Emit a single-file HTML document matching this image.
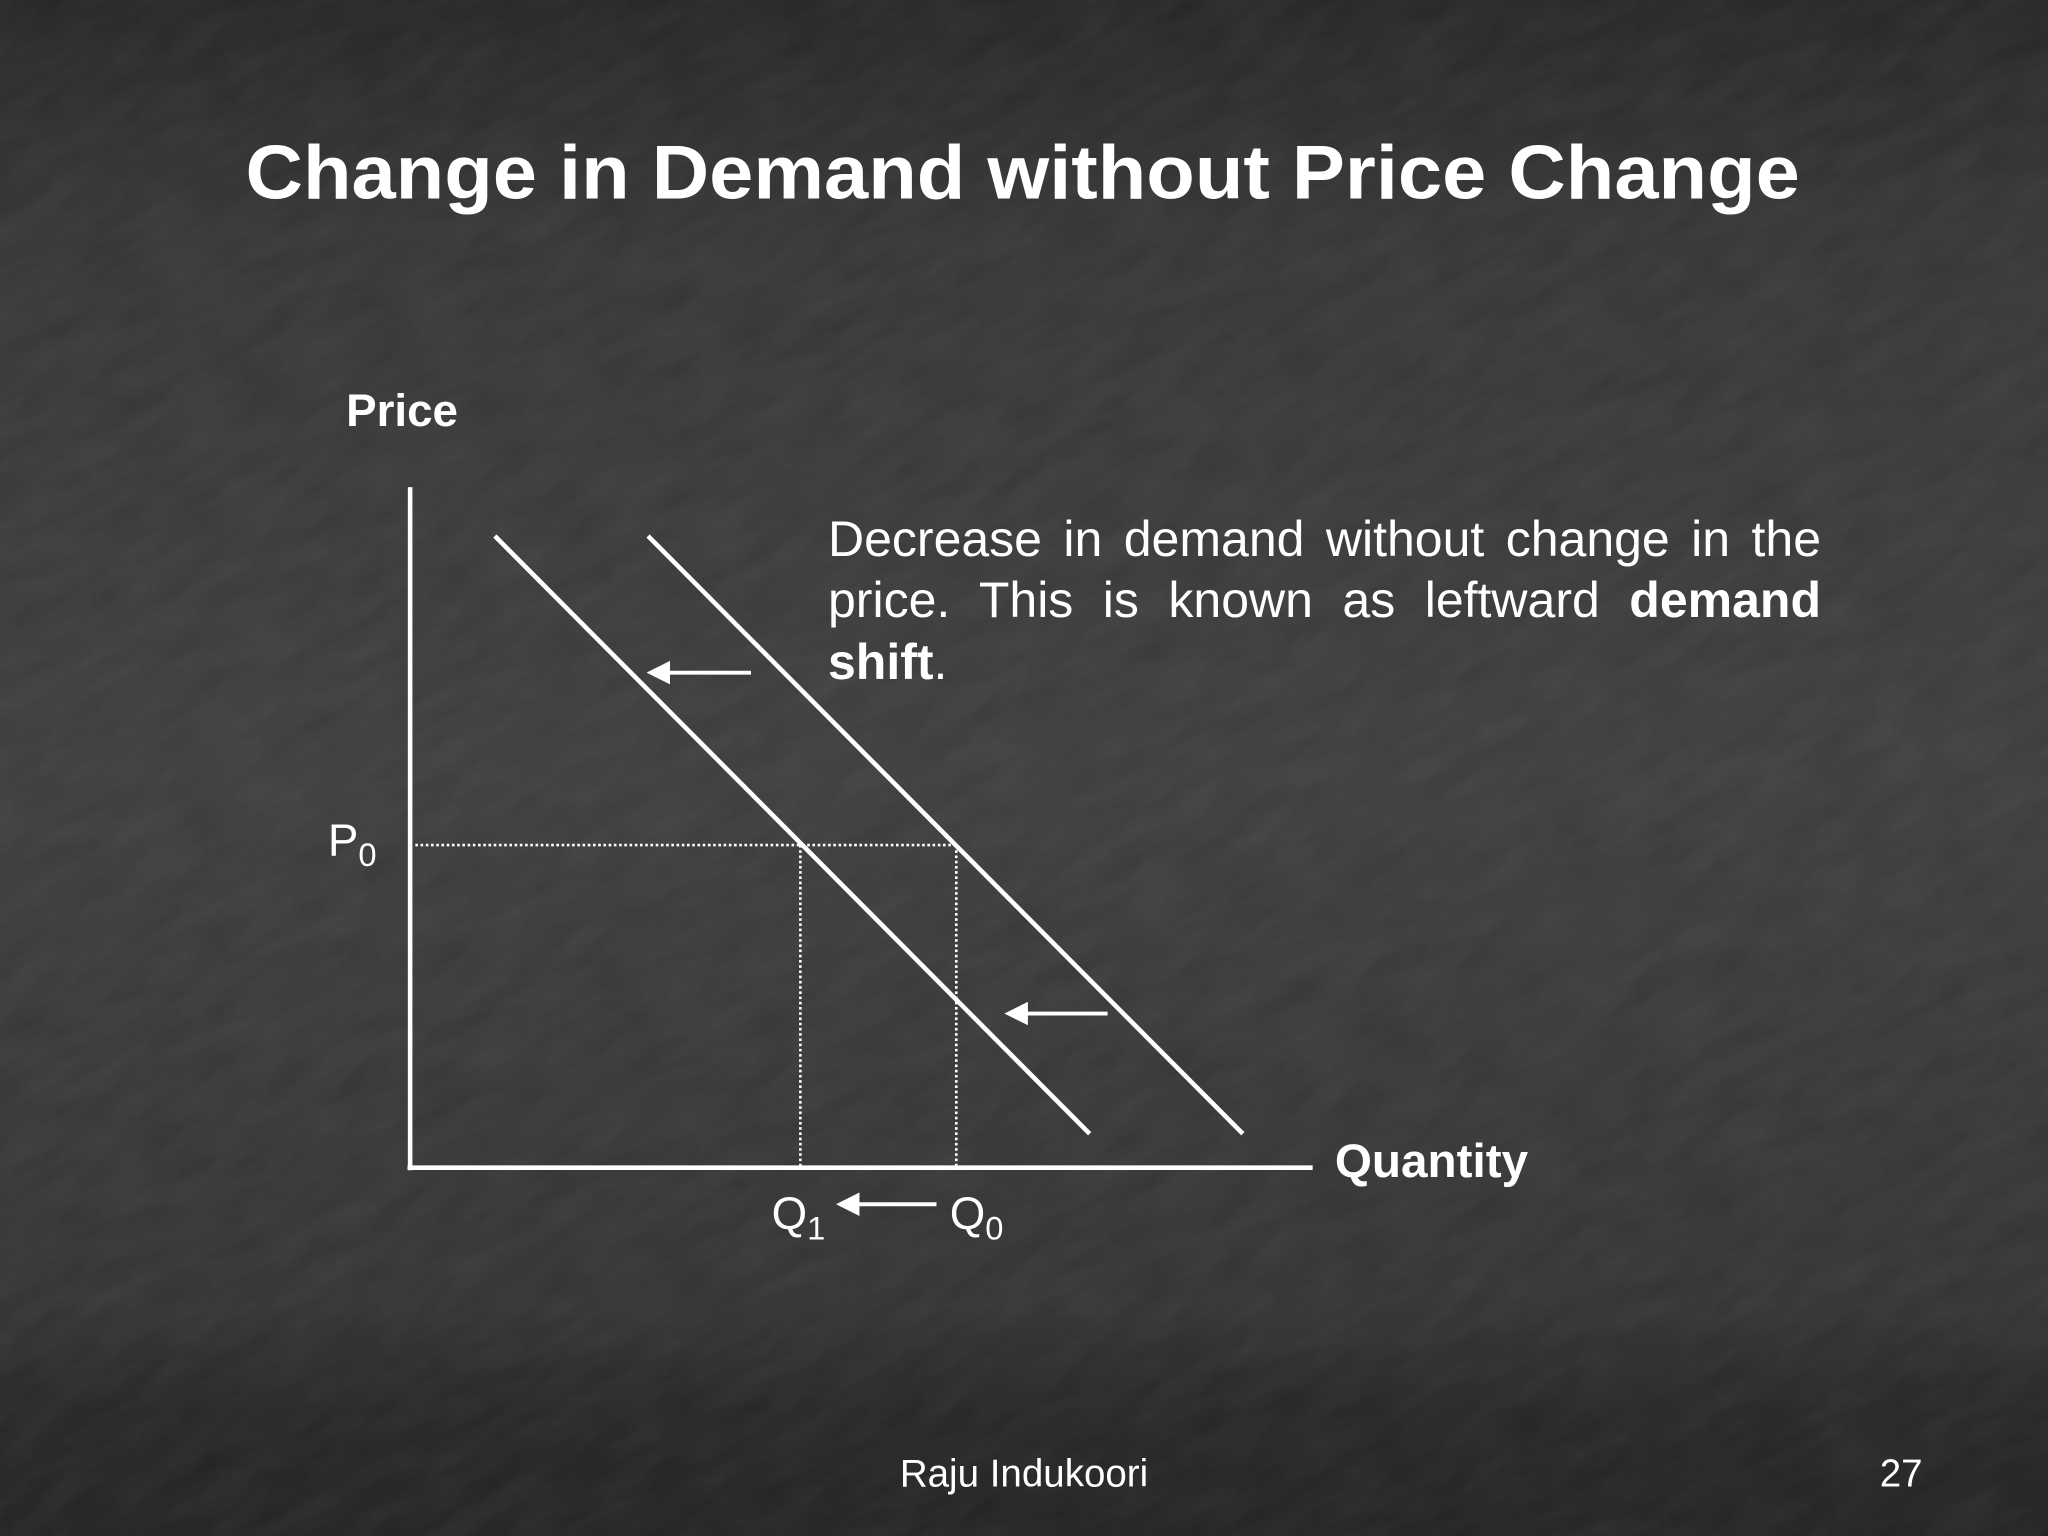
<!DOCTYPE html>
<html><head><meta charset="utf-8"><style>
html,body{margin:0;padding:0;width:2048px;height:1536px;overflow:hidden;background:#333;position:relative}
svg{display:block;overflow:hidden;position:absolute;left:0;top:0}
text{font-family:"Liberation Sans",Arial,sans-serif;fill:#fff}
#para{position:absolute;left:828px;top:509px;width:993px;font-family:"Liberation Sans",Arial,sans-serif;font-size:50px;line-height:61.4px;color:#fff}
#para div{text-align:justify;text-align-last:justify;white-space:nowrap}
#para div.last{text-align-last:left}
</style></head><body>
<svg id="chart" width="2048" height="1536" viewBox="0 0 1568 1176" xmlns="http://www.w3.org/2000/svg">
<defs>
<linearGradient id="bg" x1="0" y1="0" x2="0" y2="1">
<stop offset="0" stop-color="#262626"/><stop offset="0.15" stop-color="#353535"/>
<stop offset="0.5" stop-color="#3d3d3d"/><stop offset="0.85" stop-color="#333"/>
<stop offset="0.92" stop-color="#262626"/><stop offset="1" stop-color="#232323"/>
</linearGradient>
<filter id="tex" x="0" y="0" width="1" height="1"><feTurbulence type="fractalNoise" baseFrequency="0.02 0.06" numOctaves="3" seed="4"/><feColorMatrix type="matrix" values="0 0 0 0 1  0 0 0 0 1  0 0 0 0 1  0 0 0 0.08 0"/></filter>
<clipPath id="clip"><rect width="1568" height="1176"/></clipPath>
<marker id="ah" markerWidth="6" markerHeight="6" refX="5" refY="3" orient="auto" markerUnits="strokeWidth"><path d="M0,0 L6,3 L0,6 z" fill="#fff"/></marker>
</defs>
<rect width="1568" height="1176" fill="url(#bg)"/>
<g clip-path="url(#clip)"><rect x="-600" y="-600" width="2800" height="2400" filter="url(#tex)" transform="rotate(-30 784 588)" opacity="0.8"/></g>
<text x="188" y="152" font-size="58" font-weight="bold" textLength="1190" lengthAdjust="spacingAndGlyphs">Change in Demand without Price Change</text>
<text x="265" y="326" font-size="35" font-weight="bold">Price</text>
<text x="1022" y="901" font-size="36.5" font-weight="bold">Quantity</text>
<g id="plot"></g>
<text x="784" y="1138" font-size="29.5" text-anchor="middle">Raju Indukoori</text>
<text x="1472" y="1138" font-size="29.5" text-anchor="end">27</text>
</svg>
<div id="para">
<div>Decrease in demand without change in the</div>
<div>price. This is known as leftward <b>demand</b></div>
<div class="last"><b>shift</b>.</div>
</div>
<script>
const curveNames=['demand-d1','demand-d0'];
const curveQ0=[0.94,2.64];
const curveQ1=[7.54,9.24];
const curveP0=[9.3,9.3];
const curveP1=[0.5,0.5];
const priceP0=4.75;
const qtyQ1=4.33;
const qtyQ0=6.06;
const X=q=>314+q*69, Y=p=>894-p*52;
const NS='http://www.w3.org/2000/svg', g=document.getElementById('plot');
function mk(t,a){const e=document.createElementNS(NS,t);for(const k in a)e.setAttribute(k,a[k]);g.appendChild(e);return e;}
let e;
e=mk('line',{x1:314,y1:373,x2:314,y2:896,stroke:'#fff','stroke-width':3.5});


e=mk('line',{x1:312,y1:894,x2:1005,y2:894,stroke:'#fff','stroke-width':3.5});


const dots={stroke:'#fff','stroke-width':2,'stroke-dasharray':'2 2'};
e=mk('line',Object.assign({x1:318,y1:Y(priceP0),x2:X(qtyQ0),y2:Y(priceP0)},dots));


e=mk('line',Object.assign({x1:X(qtyQ1),y1:Y(priceP0),x2:X(qtyQ1),y2:893},dots));


e=mk('line',Object.assign({x1:X(qtyQ0),y1:Y(priceP0),x2:X(qtyQ0),y2:893},dots));


for(let i=0;i<curveNames.length;i++){
 e=mk('line',{x1:X(curveQ0[i]),y1:Y(curveP0[i]),x2:X(curveQ1[i]),y2:Y(curveP1[i]),stroke:'#fff','stroke-width':3.5});
 
 
}
const arrows=[[575,515,498,515],[848,776,772,776],[717,922,643,922]];
const arrowNames=['shift-arrow-top','shift-arrow-bottom','quantity-arrow'];
arrows.forEach((a,i)=>{
 e=mk('line',{x1:a[0],y1:a[1],x2:a[2],y2:a[3],stroke:'#fff','stroke-width':3,'marker-end':'url(#ah)'});
 
 
});
function lab(x,y,m,s,name){const t=mk('text',{x:x,y:y,'font-size':35});t.innerHTML=m+'<tspan font-size="25" dy="8">'+s+'</tspan>';
 
 }
lab(251,Y(priceP0)+8,'P','0','p0-label');
lab(X(qtyQ1)-22,941,'Q','1','q1-label');
lab(X(qtyQ0)-5,941,'Q','0','q0-label');
</script>
</body></html>
